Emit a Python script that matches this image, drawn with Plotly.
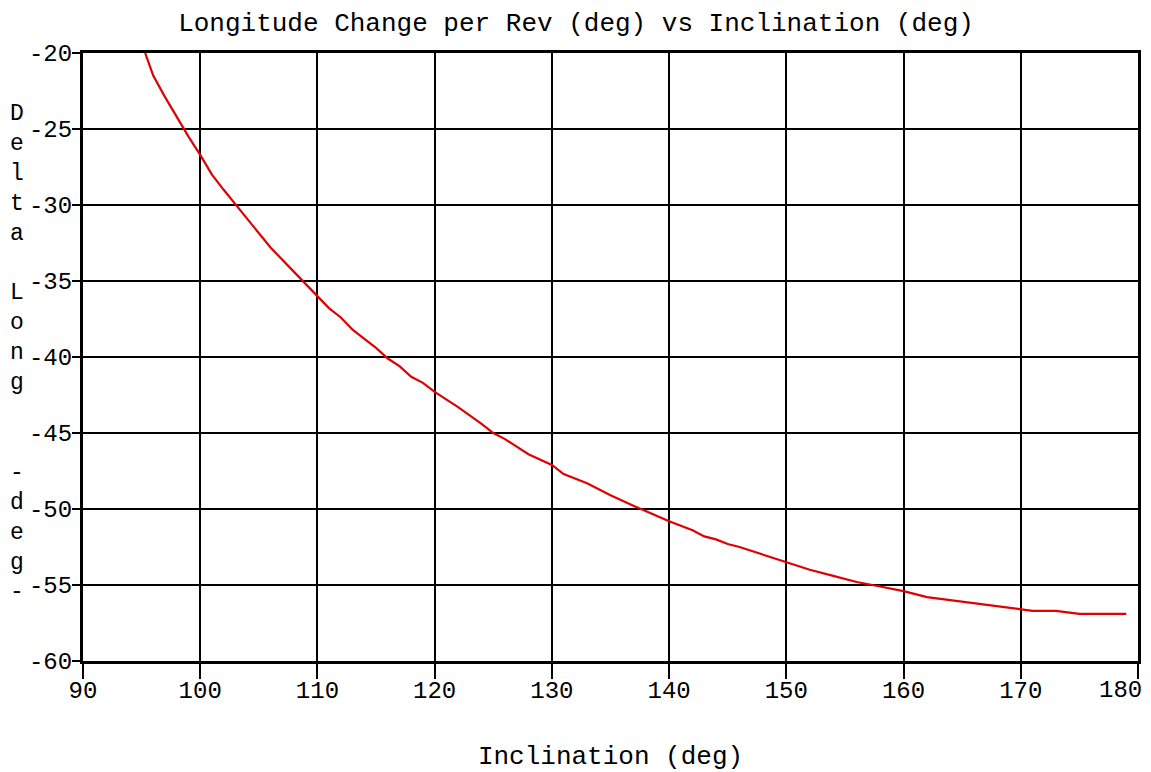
import plotly.graph_objects as go

inclination = [95.3, 96, 97, 98, 99, 100, 101, 102, 104, 106, 108, 110, 111, 112, 113, 114,
               115, 116, 117, 118, 119, 120, 122, 124, 125, 126, 128, 130, 131, 133, 135,
               137, 139, 140, 142, 143, 144, 145, 146, 148, 150, 151, 152, 154, 156, 158,
               160, 162, 163, 165, 166, 167, 168, 169, 170, 171, 173, 174, 175, 179]
delta_long = [-20.0, -21.5, -22.9, -24.2, -25.5, -26.7, -28.0, -29.0, -30.9, -32.8, -34.4,
              -36.0, -36.8, -37.4, -38.2, -38.8, -39.4, -40.1, -40.6, -41.3, -41.7, -42.3,
              -43.3, -44.4, -45.0, -45.4, -46.4, -47.1, -47.7, -48.3, -49.1, -49.8, -50.5,
              -50.8, -51.4, -51.8, -52.0, -52.3, -52.5, -53.0, -53.5, -53.7, -54.0, -54.4,
              -54.8, -55.1, -55.4, -55.8, -55.9, -56.1, -56.2, -56.3, -56.4, -56.5, -56.6,
              -56.7, -56.7, -56.8, -56.9, -56.9]

x_ticks = [90, 100, 110, 120, 130, 140, 150, 160, 170, 180]
x_ticklabels = ["90", "100", "110", "120", "130", "140", "150", "160", "170", "180"]
y_ticks = [-20, -25, -30, -35, -40, -45, -50, -55, -60]
y_ticklabels = ["-20", "-25", "-30", "-35", "-40", "-45", "-50", "-55", "-60"]

title_text = "Longitude Change per Rev (deg) vs Inclination (deg)"
x_title = "Inclination (deg)"
y_title_chars = ["D", "e", "l", "t", "a", " ", "L", "o", "n", "g", " ", " ", "-", "d", "e", "g", "-"]

FONT = "Liberation Mono"

fig = go.Figure()
fig.add_trace(go.Scatter(x=inclination, y=delta_long, mode="lines",
                         line=dict(color="#e00000", width=2.2), showlegend=False))

W, H = 1151, 772
L, R, T, B = 83, 13, 53, 111

# last x tick label is drawn as an annotation so that it stays inside the figure
shown_x_labels = x_ticklabels[:-1] + [""]

fig.update_layout(
    width=W, height=H,
    margin=dict(l=L, r=R, t=T, b=B),
    paper_bgcolor="white", plot_bgcolor="white",
    font=dict(family=FONT, color="black", size=24),
    title=dict(text=title_text, x=576 / W, xanchor="center", y=1 - 22 / H, yanchor="middle",
               yref="container", font=dict(family=FONT, size=26, color="black")),
    xaxis=dict(range=[90, 180], tickvals=x_ticks, ticktext=shown_x_labels,
               showgrid=True, gridcolor="black", gridwidth=2,
               showline=True, linecolor="black", linewidth=3, mirror=True,
               ticks="outside", ticklen=15, tickwidth=2, tickcolor="black",
               tickfont=dict(family=FONT, size=24, color="black"),
               ticklabelstandoff=-10,
               zeroline=False, automargin=False,
               title=dict(text=x_title, font=dict(family=FONT, size=26, color="black"), standoff=58)),
    yaxis=dict(range=[-60, -20], tickvals=y_ticks, ticktext=y_ticklabels,
               showgrid=True, gridcolor="black", gridwidth=2,
               showline=True, linecolor="black", linewidth=3, mirror=True,
               ticks="outside", ticklen=8, tickwidth=2, tickcolor="black",
               tickfont=dict(family=FONT, size=24, color="black"),
               ticklabelstandoff=-5,
               zeroline=False, automargin=False),
)

fig.add_annotation(text=x_ticklabels[-1], xref="x", x=x_ticks[-1], xanchor="right", xshift=6,
                   yref="paper", y=0, yanchor="middle", yshift=-29,
                   showarrow=False, font=dict(family=FONT, size=24, color="black"))

plot_h = H - T - B
mid_px = (115 + 592) / 2
fig.add_annotation(text="<br>".join(y_title_chars), xref="paper", yref="paper",
                   x=-(L - 17) / (W - L - R), xanchor="center",
                   y=(H - B - mid_px) / plot_h, yanchor="middle",
                   showarrow=False, align="center",
                   font=dict(family=FONT, size=23, color="black"))

fig.write_html("out.html")
